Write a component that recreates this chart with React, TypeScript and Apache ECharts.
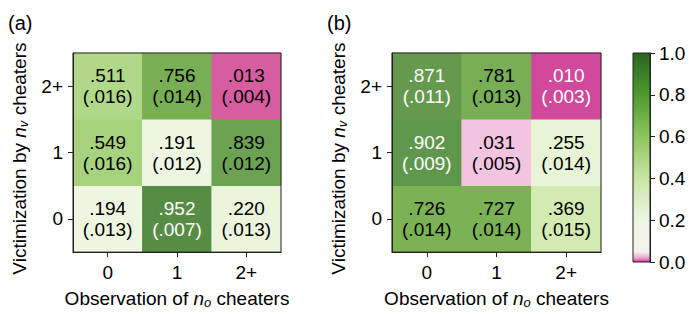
import React, { useEffect, useRef } from "react";
import * as echarts from "echarts";

// Categories
const xCats = ["0", "1", "2+"]; // Observation of n_o cheaters
const yCats = ["0", "1", "2+"]; // Victimization by n_v cheaters (bottom to top)

// Panel (a): rows = victimization 0,1,2+ ; columns = observation 0,1,2+
const meanA = [
  [0.194, 0.952, 0.22],
  [0.549, 0.191, 0.839],
  [0.511, 0.756, 0.013],
];
const seA = [
  [0.013, 0.007, 0.013],
  [0.016, 0.012, 0.012],
  [0.016, 0.014, 0.004],
];

// Panel (b)
const meanB = [
  [0.726, 0.727, 0.369],
  [0.902, 0.031, 0.255],
  [0.871, 0.781, 0.01],
];
const seB = [
  [0.014, 0.014, 0.015],
  [0.009, 0.005, 0.014],
  [0.011, 0.013, 0.003],
];

const cbTicks = [0, 0.2, 0.4, 0.6, 0.8, 1.0];

// Colormap stops for cells (value -> color)
const cellStops: [number, string][] = [
  [0.0, "#c8307f"],
  [0.01, "#d0499a"],
  [0.013, "#d65da0"],
  [0.031, "#f2c4e0"],
  [0.1, "#f5f5f0"],
  [0.19, "#eef6e2"],
  [0.255, "#e7f4d6"],
  [0.37, "#d3ebb3"],
  [0.53, "#acd683"],
  [0.73, "#7ab152"],
  [0.78, "#77ae56"],
  [0.84, "#6ba352"],
  [0.87, "#65994e"],
  [0.9, "#5f994c"],
  [0.95, "#578c45"],
  [1.0, "#4f8240"],
];

// Colorbar gradient stops (value -> color)
const barStops: [number, string][] = [
  [0.0, "#d2399a"],
  [0.02, "#eaa8d0"],
  [0.05, "#f4f3f2"],
  [0.2, "#eef5e4"],
  [0.4, "#c8e6a4"],
  [0.6, "#8cc55e"],
  [0.8, "#4f9a2e"],
  [1.0, "#2a6420"],
];

function hexToRgb(h: string) {
  const n = parseInt(h.slice(1), 16);
  return [(n >> 16) & 255, (n >> 8) & 255, n & 255];
}
function cmap(v: number) {
  for (let i = 0; i < cellStops.length - 1; i++) {
    const [v0, c0] = cellStops[i];
    const [v1, c1] = cellStops[i + 1];
    if (v >= v0 && v <= v1) {
      const t = (v - v0) / (v1 - v0);
      const a = hexToRgb(c0);
      const b = hexToRgb(c1);
      const r = a.map((x, k) => Math.round(x + (b[k] - x) * t));
      const h = (x: number) => x.toString(16).padStart(2, "0");
      return `#${h(r[0])}${h(r[1])}${h(r[2])}`;
    }
  }
  return cellStops[cellStops.length - 1][1];
}
const fmt = (v: number) => v.toFixed(3).replace(/^0/, "");

function buildData(mean: number[][], se: number[][]) {
  const out: any[] = [];
  mean.forEach((row, yi) =>
    row.forEach((v, xi) => {
      const white = v > 0.85 || v < 0.012;
      out.push({
        value: [xi, yi, v],
        se: se[yi][xi],
        itemStyle: { color: cmap(v) },
        label: { color: white ? "#ffffff" : "#000000" },
      });
    })
  );
  return out;
}

const FONT = "Liberation Sans, Arial, Helvetica, sans-serif";
const FS = 19;
const N_SAMPLES = 1001;
const cmapSamples = Array.from({ length: N_SAMPLES }, (_, i) => cmap(i / (N_SAMPLES - 1)));

export default function App() {
  const ref = useRef<HTMLDivElement>(null);
  useEffect(() => {
    if (!ref.current) return;
    const chart = echarts.init(ref.current, undefined, { renderer: "svg" });
    const grids = [
      { left: 73, top: 53, width: 208, height: 209 },
      { left: 392, top: 53, width: 209, height: 209 },
      { left: 633, top: 53, width: 17, height: 209 },
    ].map((g) => ({
      ...g,
      show: true,
      borderColor: "#222",
      borderWidth: 1,
      backgroundColor: "transparent",
      z: 5,
    }));

    const titleRich = {
      i: { fontStyle: "italic", fontSize: FS, fontFamily: FONT, color: "#000", lineHeight: 22 },
      s: { fontStyle: "italic", fontSize: 13, fontFamily: FONT, color: "#000", lineHeight: 14, verticalAlign: "bottom" },
    };

    const xAxisFor = (gi: number) => ({
      type: "category",
      gridIndex: gi,
      data: xCats,
      axisLine: { show: true, lineStyle: { color: "#222", width: 1 } },
      axisTick: { show: true, alignWithLabel: true, length: 5, lineStyle: { color: "#222" } },
      axisLabel: { fontSize: FS, color: "#000", fontFamily: FONT, margin: 11 },
      splitLine: { show: false },
      name: "Observation of {i|n}{s|o} cheaters",
      nameLocation: "middle",
      nameGap: 28,
      nameTextStyle: { fontSize: FS, color: "#000", fontFamily: FONT, lineHeight: 22, rich: titleRich },
      z: 10,
    });
    const yAxisFor = (gi: number) => ({
      type: "category",
      gridIndex: gi,
      data: yCats,
      axisLine: { show: true, lineStyle: { color: "#222", width: 1 } },
      axisTick: { show: true, alignWithLabel: true, length: 5, lineStyle: { color: "#222" } },
      axisLabel: { fontSize: FS, color: "#000", fontFamily: FONT, margin: 10 },
      splitLine: { show: false },
      name: "Victimization by {i|n}{s|v} cheaters",
      nameLocation: "middle",
      nameRotate: 90,
      nameGap: 43,
      nameTextStyle: {
        fontSize: FS,
        color: "#000",
        fontFamily: FONT,
        lineHeight: 22,
        padding: [0, 12, 0, 0],
        rich: titleRich,
      },
      z: 10,
    });

    const heat = (gi: number, mean: number[][], se: number[][]) => ({
      type: "heatmap",
      xAxisIndex: gi,
      yAxisIndex: gi,
      data: buildData(mean, se),
      label: {
        show: true,
        fontSize: FS,
        lineHeight: 21,
        fontFamily: FONT,
        formatter: (p: any) => `${fmt(p.value[2])}\n(${fmt(p.data.se)})`,
      },
      emphasis: { disabled: true },
    });

    const option: any = {
      animation: false,
      textStyle: { fontFamily: FONT },
      grid: grids,
      visualMap: {
        type: "continuous",
        show: false,
        min: 0,
        max: 1,
        dimension: 2,
        seriesIndex: [0, 1],
        inRange: { color: cmapSamples },
      },
      xAxis: [
        xAxisFor(0),
        xAxisFor(1),
        { type: "category", gridIndex: 2, data: ["cb"], show: false, boundaryGap: true },
      ],
      yAxis: [
        yAxisFor(0),
        yAxisFor(1),
        {
          type: "value",
          gridIndex: 2,
          min: 0,
          max: 1,
          interval: 0.2,
          position: "right",
          axisLine: { show: true, lineStyle: { color: "#222" } },
          axisTick: { show: true, length: 5, lineStyle: { color: "#222" } },
          axisLabel: {
            fontSize: FS,
            color: "#000",
            fontFamily: FONT,
            margin: 9,
            formatter: (v: number) => (cbTicks.some((t) => Math.abs(t - v) < 1e-9) ? v.toFixed(1) : ""),
          },
          splitLine: { show: false },
        },
      ],
      series: [
        heat(0, meanA, seA),
        heat(1, meanB, seB),
        {
          type: "bar",
          xAxisIndex: 2,
          yAxisIndex: 2,
          data: [1],
          barWidth: "100%",
          silent: true,
          itemStyle: {
            color: new echarts.graphic.LinearGradient(
              0,
              1,
              0,
              0,
              barStops.map(([o, c]) => ({ offset: o, color: c }))
            ),
          },
        },
      ],
      graphic: [
        { type: "text", left: 8, top: 13, style: { text: "(a)", fontSize: FS + 1, fill: "#000", fontFamily: FONT } },
        { type: "text", left: 327, top: 13, style: { text: "(b)", fontSize: FS + 1, fill: "#000", fontFamily: FONT } },
      ],
    };
    chart.setOption(option);
    return () => chart.dispose();
  }, []);
  return <div ref={ref} style={{ width: 689, height: 314, position: "absolute", left: 0, top: 0 }} />;
}
